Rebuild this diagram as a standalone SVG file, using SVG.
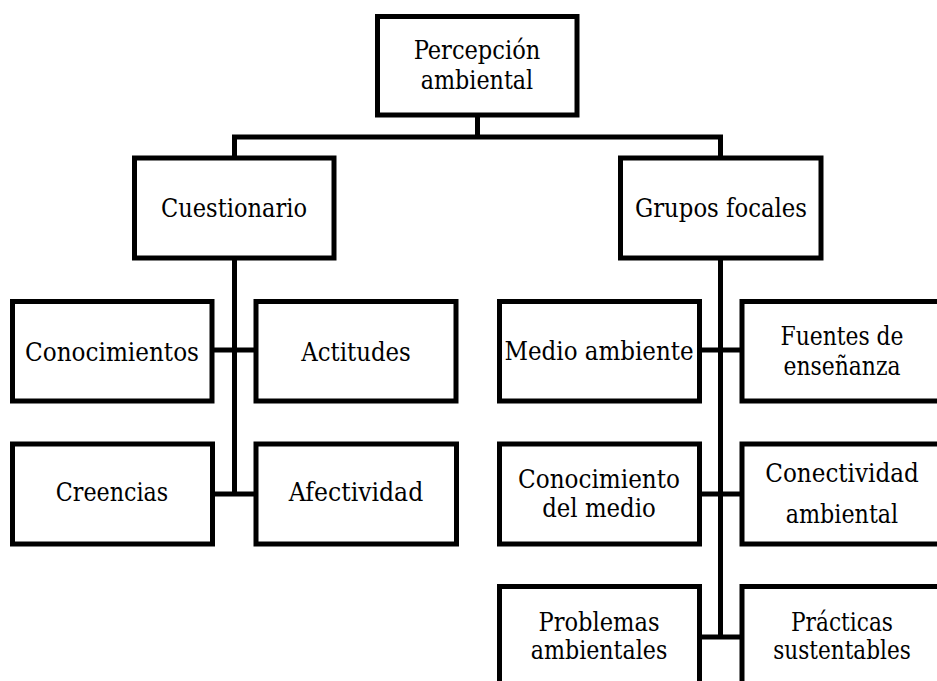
<svg xmlns="http://www.w3.org/2000/svg" width="937" height="681" viewBox="0 0 937 681">
  <style>
    .box { fill: #ffffff; stroke: #000000; stroke-width: 5; stroke-linejoin: miter; }
    .con { fill: none; stroke: #000000; stroke-width: 5; stroke-linejoin: miter; }
    text { font-family: "DejaVu Serif Condensed", "DejaVu Serif", serif; font-size: 26px; fill: #000000; text-anchor: middle; }
  </style>
  <rect width="937" height="681" fill="#ffffff"/>
  <g id="connectors">
    <path class="con" d="M477.5 115 V137"/>
    <path class="con" d="M234.5 158 V137 H720.5 V158"/>
    <path class="con" d="M234.5 258 V494"/>
    <path class="con" d="M212 350 H256"/>
    <path class="con" d="M212 494 H256"/>
    <path class="con" d="M720.5 258 V637"/>
    <path class="con" d="M699 350 H742"/>
    <path class="con" d="M699 494 H742"/>
    <path class="con" d="M699 637 H742"/>
  </g>
  <g id="percepcion">
    <rect class="box" x="377.5" y="16.5" width="199.5" height="98.5"/>
    <text x="477" y="59" textLength="126.6" lengthAdjust="spacingAndGlyphs">Percepción</text>
    <text x="477" y="89" textLength="112.4" lengthAdjust="spacingAndGlyphs">ambiental</text>
  </g>
  <g id="cuestionario">
    <rect class="box" x="134.5" y="158" width="199.5" height="100"/>
    <text x="234" y="217" textLength="146" lengthAdjust="spacingAndGlyphs">Cuestionario</text>
  </g>
  <g id="grupos">
    <rect class="box" x="620.5" y="158" width="200.5" height="100"/>
    <text x="721" y="217" textLength="172" lengthAdjust="spacingAndGlyphs">Grupos focales</text>
  </g>
  <g id="conocimientos">
    <rect class="box" x="12.5" y="301.5" width="199.5" height="99.5"/>
    <text x="112" y="361" textLength="174" lengthAdjust="spacingAndGlyphs">Conocimientos</text>
  </g>
  <g id="actitudes">
    <rect class="box" x="256" y="301.5" width="200" height="99.5"/>
    <text x="356" y="361" textLength="109.5" lengthAdjust="spacingAndGlyphs">Actitudes</text>
  </g>
  <g id="creencias">
    <rect class="box" x="12.5" y="444" width="200" height="100"/>
    <text x="112" y="501" textLength="112.5" lengthAdjust="spacingAndGlyphs">Creencias</text>
  </g>
  <g id="afectividad">
    <rect class="box" x="256" y="444" width="200.5" height="100"/>
    <text x="356" y="501" textLength="134.5" lengthAdjust="spacingAndGlyphs">Afectividad</text>
  </g>
  <g id="medio-ambiente">
    <rect class="box" x="499.5" y="301.5" width="200" height="99.5"/>
    <text x="599" y="360" textLength="189" lengthAdjust="spacingAndGlyphs">Medio ambiente</text>
  </g>
  <g id="fuentes">
    <rect class="box" x="742" y="301.5" width="200" height="99.5"/>
    <text x="842" y="345" textLength="123" lengthAdjust="spacingAndGlyphs">Fuentes de</text>
    <text x="842" y="375" textLength="117" lengthAdjust="spacingAndGlyphs">enseñanza</text>
  </g>
  <g id="conocimiento-medio">
    <rect class="box" x="499.5" y="444" width="200" height="100"/>
    <text x="599" y="488" textLength="162" lengthAdjust="spacingAndGlyphs">Conocimiento</text>
    <text x="599" y="517" textLength="113.5" lengthAdjust="spacingAndGlyphs">del medio</text>
  </g>
  <g id="conectividad">
    <rect class="box" x="742" y="444" width="200" height="100"/>
    <text x="842" y="482" textLength="153.5" lengthAdjust="spacingAndGlyphs">Conectividad</text>
    <text x="842" y="523" textLength="112.4" lengthAdjust="spacingAndGlyphs">ambiental</text>
  </g>
  <g id="problemas">
    <rect class="box" x="499.5" y="586.5" width="200" height="100"/>
    <text x="599" y="631" textLength="121" lengthAdjust="spacingAndGlyphs">Problemas</text>
    <text x="599" y="659" textLength="136.5" lengthAdjust="spacingAndGlyphs">ambientales</text>
  </g>
  <g id="practicas">
    <rect class="box" x="742" y="586.5" width="200" height="100"/>
    <text x="842" y="631" textLength="102" lengthAdjust="spacingAndGlyphs">Prácticas</text>
    <text x="842" y="659" textLength="137.5" lengthAdjust="spacingAndGlyphs">sustentables</text>
  </g>
</svg>
